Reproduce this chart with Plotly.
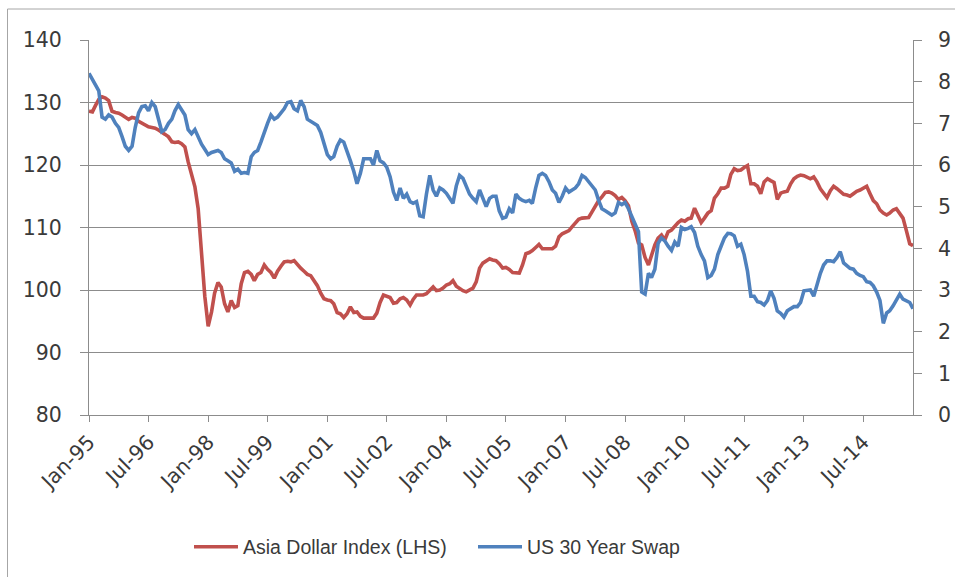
import pandas as pd
import plotly.graph_objects as go

# Monthly dates, Jan-1995 .. Oct-2015
months = pd.date_range("1995-01-01", periods=250, freq="MS")

asia_dollar_index = [
    128.6,128.5,129.5,130.5,130.9,130.7,130.3,128.6,128.4,128.3,
    128.0,127.7,127.3,127.6,127.5,127.0,126.7,126.3,126.1,126.0,
    125.9,125.6,125.3,124.9,124.5,123.7,123.6,123.7,123.4,122.9,
    120.5,118.5,116.5,113.0,106.0,99.0,94.2,96.5,99.5,101.2,
    100.5,97.8,96.5,98.3,97.2,97.5,101.0,102.8,103.0,102.5,
    101.5,102.5,102.8,104.0,103.3,102.8,101.9,103.0,103.8,104.5,
    104.6,104.5,104.7,104.0,103.5,103.0,102.5,102.3,101.5,100.7,
    99.5,98.6,98.4,98.3,97.8,96.4,96.2,95.6,96.2,97.3,
    96.4,96.5,95.8,95.5,95.5,95.5,95.5,96.3,98.0,99.2,
    99.0,98.8,97.9,98.0,98.6,98.8,98.4,97.6,98.5,99.2,
    99.2,99.2,99.4,100.0,100.5,99.9,100.0,100.3,100.8,101.0,
    101.5,100.6,100.2,99.9,99.7,100.0,100.3,101.3,103.5,104.3,
    104.7,105.0,104.8,104.7,104.2,103.5,103.6,103.3,102.8,102.7,
    102.7,104.0,105.8,106.0,106.3,106.8,107.3,106.6,106.6,106.6,
    106.6,107.0,108.5,109.0,109.2,109.5,110.1,110.7,111.3,111.5,
    111.5,111.6,112.5,113.5,114.3,114.9,115.6,115.7,115.5,115.1,
    114.5,114.8,114.3,113.5,111.0,109.5,107.5,107.2,105.2,104.0,
    105.5,107.2,108.3,108.8,108.0,109.3,109.6,110.3,110.8,111.2,
    111.0,111.4,111.5,113.1,112.0,110.8,111.5,112.3,112.7,114.7,
    115.4,116.3,116.3,116.6,118.5,119.4,119.1,119.2,119.6,119.9,
    117.0,117.0,116.6,115.4,117.3,117.8,117.5,117.2,114.5,115.5,
    115.7,115.8,117.0,117.8,118.2,118.4,118.3,118.1,117.8,118.1,
    117.3,116.2,115.6,114.8,115.9,116.6,116.2,115.7,115.3,115.2,
    115.0,115.4,115.8,116.0,116.3,116.6,115.4,114.3,113.8,112.8,
    112.3,112.0,112.3,112.8,113.0,112.3,111.5,109.5,107.4,107.1,
]

us_30y_swap = [
    8.2,8.05,7.9,7.78,7.15,7.1,7.2,7.15,7.0,6.9,
    6.68,6.45,6.35,6.45,6.9,7.25,7.4,7.42,7.3,7.5,
    7.4,7.08,6.8,6.85,7.0,7.1,7.3,7.45,7.32,7.2,
    6.85,6.75,6.85,6.65,6.5,6.38,6.25,6.3,6.32,6.35,
    6.3,6.15,6.1,6.05,5.85,5.9,5.8,5.82,5.8,6.2,
    6.3,6.35,6.55,6.8,7.0,7.2,7.1,7.15,7.25,7.35,
    7.5,7.52,7.35,7.3,7.55,7.4,7.1,7.05,7.0,6.95,
    6.78,6.5,6.25,6.15,6.2,6.45,6.6,6.55,6.35,6.1,
    5.85,5.55,5.8,6.15,6.15,6.15,6.0,6.35,6.1,6.05,
    5.95,5.72,5.35,5.15,5.45,5.2,5.3,5.12,5.08,5.12,
    4.78,4.76,5.3,5.75,5.4,5.25,5.45,5.4,5.32,5.2,
    5.08,5.5,5.75,5.68,5.5,5.3,5.2,5.12,5.4,5.2,
    5.0,5.2,5.25,5.25,4.9,4.72,4.75,4.95,4.85,5.3,
    5.2,5.15,5.12,5.15,5.08,5.45,5.75,5.8,5.75,5.6,
    5.4,5.32,5.1,5.25,5.45,5.35,5.4,5.45,5.55,5.75,
    5.7,5.6,5.48,5.4,5.15,4.95,4.9,4.85,4.8,4.85,
    5.1,5.05,5.1,4.95,4.75,4.6,4.4,2.95,2.9,3.4,
    3.3,3.5,4.12,4.25,4.18,4.05,3.95,4.15,4.05,4.5,
    4.45,4.48,4.52,4.38,4.05,3.85,3.7,3.3,3.35,3.5,
    3.85,4.05,4.25,4.36,4.35,4.3,4.05,4.1,3.85,3.45,
    2.85,2.85,2.72,2.7,2.64,2.75,2.98,2.8,2.5,2.44,
    2.35,2.5,2.55,2.6,2.6,2.7,2.98,3.0,3.0,2.85,
    3.15,3.4,3.6,3.7,3.7,3.68,3.78,3.92,3.65,3.58,
    3.52,3.5,3.4,3.35,3.32,3.2,3.18,3.1,2.95,2.75,
    2.2,2.45,2.5,2.62,2.78,2.9,2.78,2.75,2.7,2.55,
]

tick_dates = ["1995-01-01","1996-07-01","1998-01-01","1999-07-01","2001-01-01",
              "2002-07-01","2004-01-01","2005-07-01","2007-01-01","2008-07-01",
              "2010-01-01","2011-07-01","2013-01-01","2014-07-01"]
tick_labels = ["Jan-95","Jul-96","Jan-98","Jul-99","Jan-01","Jul-02","Jan-04",
               "Jul-05","Jan-07","Jul-08","Jan-10","Jul-11","Jan-13","Jul-14"]

RED = "#C0504D"
BLUE = "#4F81BD"
GRID = "#8c8c8c"
TXT = "#3a3a3a"

fig = go.Figure()
fig.add_trace(go.Scatter(x=months, y=asia_dollar_index, name="Asia Dollar Index (LHS)",
                         mode="lines", line=dict(color=RED, width=3.6), yaxis="y"))
fig.add_trace(go.Scatter(x=months, y=us_30y_swap, name="US 30 Year Swap",
                         mode="lines", line=dict(color=BLUE, width=3.6), yaxis="y2"))

W, H = 955, 577
L, R, T, B = 89, 42, 40, 162
pw, ph = W - L - R, H - T - B

def px(page_x):
    return (page_x - L) / pw

def py(page_y):
    return (H - B - page_y) / ph

XFONT = dict(family="DejaVu Sans", size=20.5, color=TXT)
YFONT = dict(family="DejaVu Sans", size=20.5, color=TXT)
BORDER = dict(color="#a6a6a6", width=1)

fig.update_layout(
    width=W, height=H,
    margin=dict(l=L, r=R, t=T, b=B, autoexpand=False),
    paper_bgcolor="white", plot_bgcolor="white",
    font=dict(family="DejaVu Sans", size=19, color=TXT),
    showlegend=True,
    legend=dict(orientation="h", xanchor="left", yanchor="middle",
                x=px(189), y=py(547),
                font=dict(family="Liberation Sans", size=19.5, color=TXT),
                itemwidth=44, entrywidth=225, tracegroupgap=0,
                bgcolor="rgba(0,0,0,0)"),
    xaxis=dict(type="date", range=["1995-01-01", "2015-10-01"],
               tickvals=tick_dates, ticktext=tick_labels, tickangle=-45,
               ticks="outside", ticklen=6, tickcolor=GRID, tickwidth=1,
               showline=True, linecolor=GRID, linewidth=1,
               showgrid=False, zeroline=False, automargin=False,
               tickfont=XFONT),
    yaxis=dict(range=[80, 140], dtick=10, tick0=80,
               showgrid=True, gridcolor=GRID, gridwidth=1,
               ticks="outside", ticklen=8, tickcolor=GRID,
               showline=True, linecolor=GRID, linewidth=1, zeroline=False,
               ticklabelstandoff=14, automargin=False,
               tickfont=YFONT),
    yaxis2=dict(range=[0, 9], dtick=1, tick0=0, overlaying="y", side="right",
                showgrid=False, ticks="outside", ticklen=8, tickcolor=GRID,
                showline=True, linecolor=GRID, linewidth=1, zeroline=False,
                ticklabelstandoff=12, automargin=False,
                tickfont=YFONT),
    shapes=[
        dict(type="line", xref="paper", yref="paper",
             x0=px(7.5), x1=px(990), y0=py(9), y1=py(9), line=BORDER, layer="below"),
        dict(type="line", xref="paper", yref="paper",
             x0=px(7.5), x1=px(7.5), y0=py(9), y1=py(600), line=BORDER, layer="below"),
    ],
)

fig.write_html(
    "out.html",
    config={"displayModeBar": False},
    post_script="document.body.style.margin='0';document.body.style.overflow='hidden';",
)
